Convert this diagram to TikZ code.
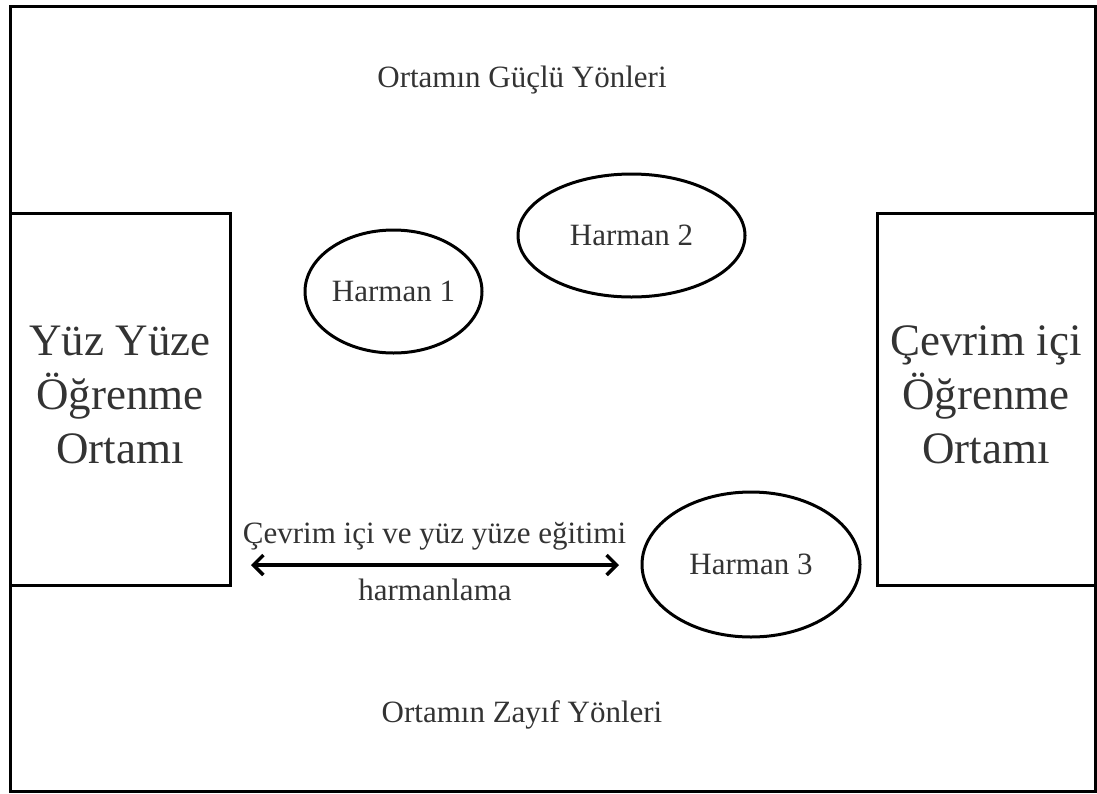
\documentclass[tikz,border=0pt]{standalone}
\usepackage{fontspec}
\setmainfont{Liberation Serif}
\usetikzlibrary{arrows.meta,shapes.geometric}
\definecolor{txt}{HTML}{333333}
\begin{document}
\begin{tikzpicture}[x=1pt,y=-1pt,
  frame/.style={draw=black,line width=3pt},
  envbox/.style={draw=black,line width=3pt,rectangle,inner sep=0pt,
    font=\fontsize{45}{54}\selectfont,text=txt,align=center},
  harman/.style={draw=black,line width=3pt,ellipse,inner sep=0pt,
    font=\fontsize{31}{37}\selectfont,text=txt},
  lbl/.style={font=\fontsize{31}{37}\selectfont,text=txt,inner sep=0pt,anchor=base},
  link/.style={line width=3.5pt,{Straight Barb[length=10pt,width=20pt]}-{Straight Barb[length=10pt,width=20pt]}},
]
\useasboundingbox (0,0) rectangle (1097,793);
\draw[frame] (10,6) rectangle (1095,791);
\node[lbl] (strong) at (522,87) {Ortamın Güçlü Yönleri};
\node[lbl] (weak) at (522,722) {Ortamın Zayıf Yönleri};
\node[envbox,minimum width=220pt,minimum height=372pt] (f2f) at (120,399)
  {Yüz Yüze\\Öğrenme\\Ortamı\rule[-8pt]{0pt}{8pt}};
\node[envbox,minimum width=218pt,minimum height=372pt] (online) at (986,399)
  {Çevrim içi\\Öğrenme\\Ortamı\rule[-8pt]{0pt}{8pt}};
\node[harman,minimum width=177pt,minimum height=123pt] (h1) at (393.5,291.5) {Harman 1};
\node[harman,minimum width=227pt,minimum height=123pt] (h2) at (631.5,235.5) {Harman 2};
\node[harman,minimum width=218pt,minimum height=145pt] (h3) at (751,564.5) {Harman 3};
\coordinate (aL) at (251,565);
\coordinate (aR) at (619,565);
\draw[link] (aL) -- (aR);
\node[lbl] (top) at (434.5,543) {Çevrim içi ve yüz yüze eğitimi};
\node[lbl] (bot) at (435,600) {harmanlama};
\end{tikzpicture}
\end{document}
